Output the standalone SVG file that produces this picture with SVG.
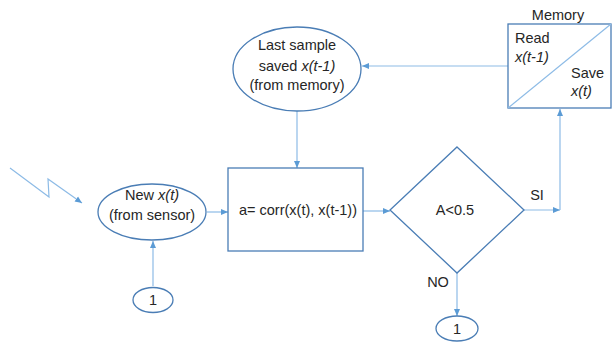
<svg xmlns="http://www.w3.org/2000/svg" width="612" height="342" viewBox="0 0 612 342">
<defs>
<marker id="ah" markerWidth="8" markerHeight="8" refX="7" refY="4" orient="auto" markerUnits="userSpaceOnUse">
<path d="M0,1 L7,4 L0,7 Z" fill="#5B9BD5"/>
</marker>
<style>
.shape{fill:#fff;stroke:#4a7db5;stroke-width:1.3}
.conn{fill:none;stroke:#8dbbe6;stroke-width:1.2;marker-end:url(#ah)}
text{font-family:"Liberation Sans",Arial,sans-serif;font-size:14.5px;fill:#262626}
.c{text-anchor:middle}
.i{font-style:italic}
</style>
</defs>
<rect width="612" height="342" fill="#fff"/>
<g id="connectors">
<path class="conn" d="M10,168 L49,197 L48,179 L82,203"/>
<path class="conn" d="M207,212 L228,212"/>
<path class="conn" d="M297,111 L297,168"/>
<path class="conn" d="M363,211 L390,211"/>
<path class="conn" d="M524,210 L560,210"/>
<path class="conn" d="M560,210 L560,109"/>
<path class="conn" d="M508,66 L362,66"/>
<path class="conn" d="M153,286 L153,241"/>
<path class="conn" d="M457,273 L457,316"/>
<text x="537" y="200" class="c">SI</text>
<text x="438" y="287" class="c">NO</text>
</g>
<g id="new-sample">
<ellipse class="shape" cx="152" cy="212" rx="54" ry="28"/>
<text x="152" y="200" class="c">New <tspan class="i">x(t)</tspan></text>
<text x="152" y="220" class="c">(from sensor)</text>
</g>
<g id="last-sample">
<ellipse class="shape" cx="297" cy="69" rx="64" ry="42"/>
<text x="297" y="50" class="c">Last sample</text>
<text x="297" y="71" class="c">saved <tspan class="i">x(t-1)</tspan></text>
<text x="297" y="90" class="c">(from memory)</text>
</g>
<g id="corr">
<rect class="shape" x="228" y="168" width="135" height="83"/>
<text x="298" y="215" class="c">a= corr(x(t), x(t-1))</text>
</g>
<g id="decision">
<polygon class="shape" points="457,147 524,210 457,273 390,210"/>
<text x="455" y="215" class="c">A&lt;0.5</text>
</g>
<g id="memory">
<text x="558" y="20" class="c">Memory</text>
<rect class="shape" x="508" y="24" width="103" height="84"/>
<line x1="508" y1="108" x2="611" y2="24" stroke="#8dbbe6" stroke-width="1.2"/>
<text x="515" y="43">Read</text>
<text x="515" y="62" class="i">x(t-1)</text>
<text x="571" y="78">Save</text>
<text x="571" y="96" class="i">x(t)</text>
</g>
<g id="connector-1-top">
<ellipse class="shape" cx="153" cy="300" rx="20" ry="12.5"/>
<text x="153" y="305" class="c">1</text>
</g>
<g id="connector-1-bottom">
<ellipse class="shape" cx="457" cy="328.5" rx="21" ry="12.5"/>
<text x="457" y="334" class="c">1</text>
</g>
</svg>
